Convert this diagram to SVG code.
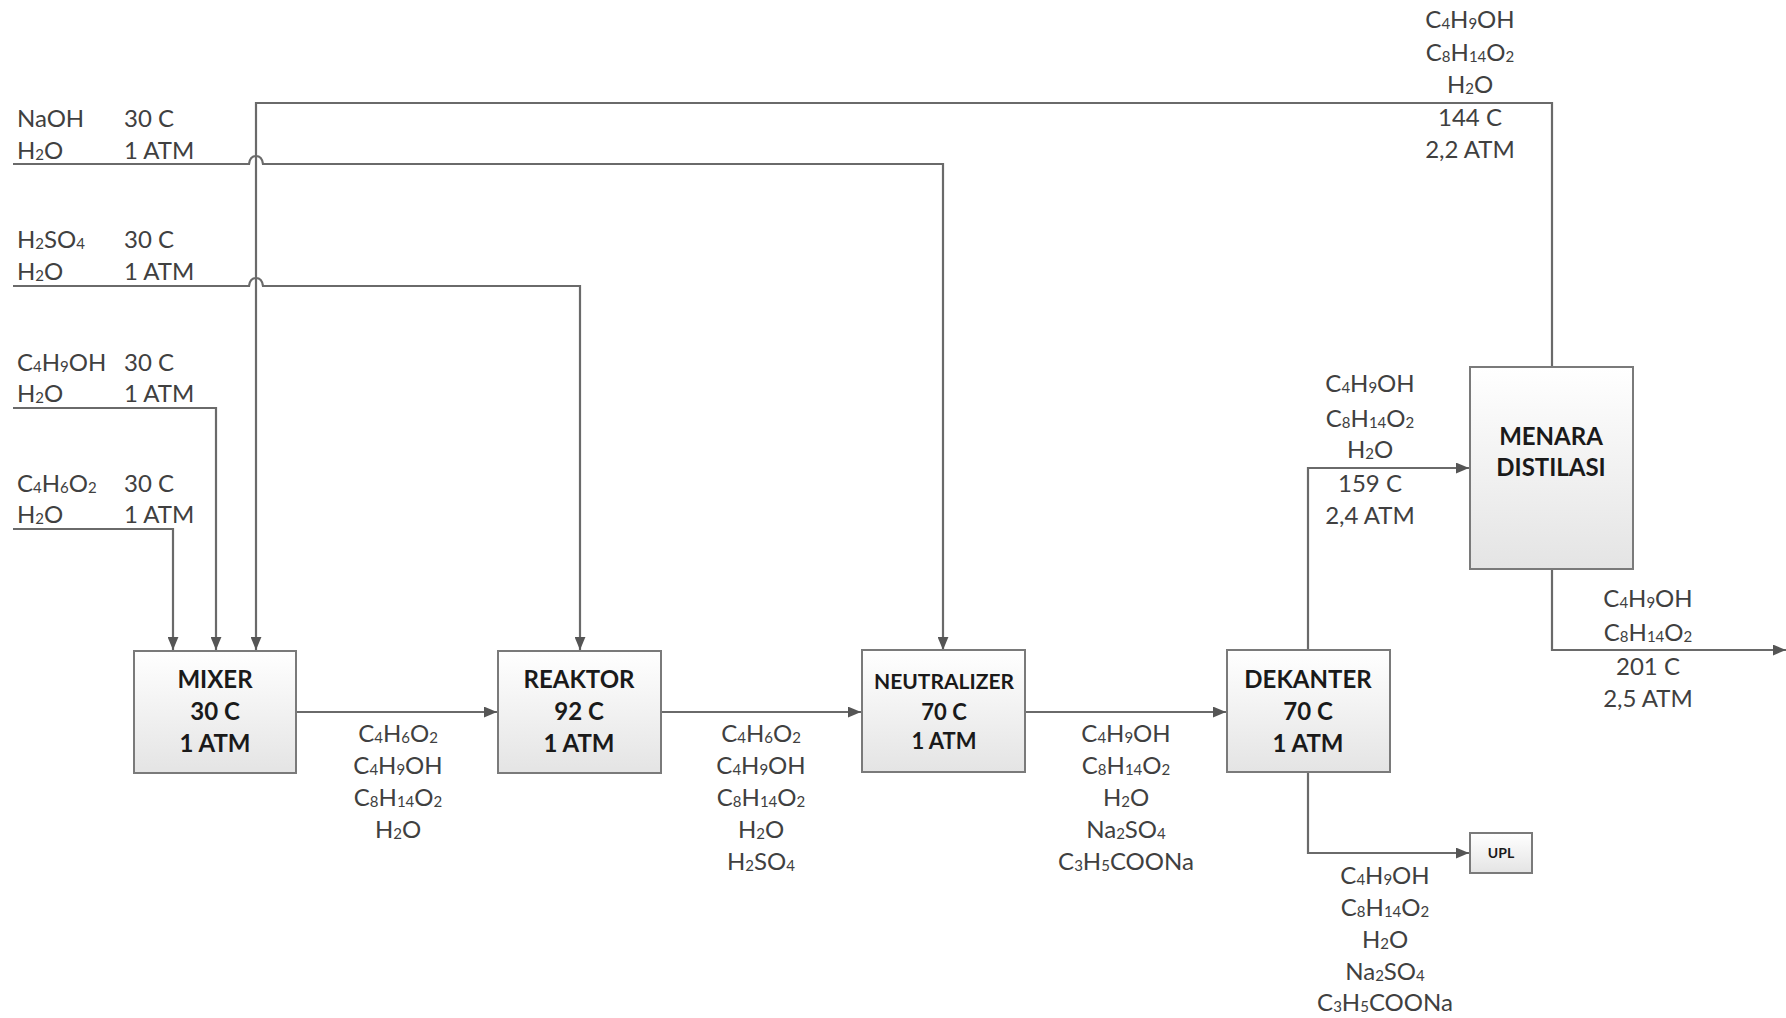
<svg xmlns="http://www.w3.org/2000/svg" width="1786" height="1018" viewBox="0 0 1786 1018">
<defs>
<linearGradient id="bx" x1="0" y1="0" x2="0" y2="1">
<stop offset="0" stop-color="#ffffff"/>
<stop offset="1" stop-color="#e4e4e4"/>
</linearGradient>
<marker id="ar" viewBox="0 0 12 10" refX="12" refY="5" markerWidth="13" markerHeight="11" markerUnits="userSpaceOnUse" orient="auto">
<path d="M0,0 L12,5 L0,10 z" fill="#555"/>
</marker>
</defs>
<style>
.box{fill:url(#bx);stroke:#7a7a7a;stroke-width:2}
.bt{font-family:Lato,"Open Sans",sans-serif;font-weight:bold;font-size:24px;fill:#1a1a1a;text-anchor:middle}
.lb{font-family:Lato,"Open Sans",sans-serif;font-size:24px;fill:#404040}
.c{text-anchor:middle}
.s{font-size:15px;baseline-shift:-1px}
.ln2{fill:none;stroke:#6a6a6a;stroke-width:2.2;marker-end:url(#ar)}
</style>
<rect width="1786" height="1018" fill="#fff"/>

<g id="connectors">
<path class="ln2" d="M1552,367 V103 H256 V650"/>
<path class="ln2" d="M13,164 H249 Q250,156 256,156 Q262,156 263,164 H943 V650"/>
<path class="ln2" d="M13,286 H249 Q250,278 256,278 Q262,278 263,286 H580 V650"/>
<path class="ln2" d="M13,408 H216 V650"/>
<path class="ln2" d="M13,529 H173 V650"/>
<path class="ln2" d="M296,712 H497"/>
<path class="ln2" d="M661,712 H861"/>
<path class="ln2" d="M1025,712 H1226"/>
<path class="ln2" d="M1308,650 V468 H1469"/>
<path class="ln2" d="M1308,772 V853 H1469"/>
<path class="ln2" d="M1552,569 V650 H1786"/>
</g>

<g id="mixer">
<rect class="box" x="134" y="651" width="162" height="122"/>
<text class="bt" x="215" y="688">MIXER</text>
<text class="bt" x="215" y="720">30 C</text>
<text class="bt" x="215" y="752">1 ATM</text>
</g>
<g id="reaktor">
<rect class="box" x="498" y="651" width="163" height="122"/>
<text class="bt" x="579" y="688">REAKTOR</text>
<text class="bt" x="579" y="720">92 C</text>
<text class="bt" x="579" y="752">1 ATM</text>
</g>
<g id="neutralizer">
<rect class="box" x="862" y="650" width="163" height="122"/>
<text class="bt" x="944" y="689" style="font-size:21px">NEUTRALIZER</text>
<text class="bt" x="944" y="720" style="font-size:22px">70 C</text>
<text class="bt" x="944" y="749" style="font-size:22px">1 ATM</text>
</g>
<g id="dekanter">
<rect class="box" x="1227" y="650" width="163" height="122"/>
<text class="bt" x="1308" y="688">DEKANTER</text>
<text class="bt" x="1308" y="720">70 C</text>
<text class="bt" x="1308" y="752">1 ATM</text>
</g>
<g id="menara">
<rect class="box" x="1470" y="367" width="163" height="202"/>
<text class="bt" x="1551" y="445">MENARA</text>
<text class="bt" x="1551" y="476">DISTILASI</text>
</g>
<g id="upl">
<rect class="box" x="1470" y="833" width="62" height="40"/>
<text class="bt" x="1501" y="858" style="font-size:14px">UPL</text>
</g>

<g id="feed-labels" class="lb">
<text x="17" y="127">NaOH</text>
<text x="17" y="159">H<tspan class="s">2</tspan>O</text>
<text x="124" y="127">30 C</text>
<text x="124" y="159">1 ATM</text>
<text x="17" y="248">H<tspan class="s">2</tspan>SO<tspan class="s">4</tspan></text>
<text x="17" y="280">H<tspan class="s">2</tspan>O</text>
<text x="124" y="248">30 C</text>
<text x="124" y="280">1 ATM</text>
<text x="17" y="371">C<tspan class="s">4</tspan>H<tspan class="s">9</tspan>OH</text>
<text x="17" y="402">H<tspan class="s">2</tspan>O</text>
<text x="124" y="371">30 C</text>
<text x="124" y="402">1 ATM</text>
<text x="17" y="492">C<tspan class="s">4</tspan>H<tspan class="s">6</tspan>O<tspan class="s">2</tspan></text>
<text x="17" y="523">H<tspan class="s">2</tspan>O</text>
<text x="124" y="492">30 C</text>
<text x="124" y="523">1 ATM</text>
</g>

<g id="stream-labels" class="lb c">
<text class="c" x="398" y="742">C<tspan class="s">4</tspan>H<tspan class="s">6</tspan>O<tspan class="s">2</tspan></text>
<text class="c" x="398" y="774">C<tspan class="s">4</tspan>H<tspan class="s">9</tspan>OH</text>
<text class="c" x="398" y="806">C<tspan class="s">8</tspan>H<tspan class="s">14</tspan>O<tspan class="s">2</tspan></text>
<text class="c" x="398" y="838">H<tspan class="s">2</tspan>O</text>

<text class="c" x="761" y="742">C<tspan class="s">4</tspan>H<tspan class="s">6</tspan>O<tspan class="s">2</tspan></text>
<text class="c" x="761" y="774">C<tspan class="s">4</tspan>H<tspan class="s">9</tspan>OH</text>
<text class="c" x="761" y="806">C<tspan class="s">8</tspan>H<tspan class="s">14</tspan>O<tspan class="s">2</tspan></text>
<text class="c" x="761" y="838">H<tspan class="s">2</tspan>O</text>
<text class="c" x="761" y="870">H<tspan class="s">2</tspan>SO<tspan class="s">4</tspan></text>

<text class="c" x="1126" y="742">C<tspan class="s">4</tspan>H<tspan class="s">9</tspan>OH</text>
<text class="c" x="1126" y="774">C<tspan class="s">8</tspan>H<tspan class="s">14</tspan>O<tspan class="s">2</tspan></text>
<text class="c" x="1126" y="806">H<tspan class="s">2</tspan>O</text>
<text class="c" x="1126" y="838">Na<tspan class="s">2</tspan>SO<tspan class="s">4</tspan></text>
<text class="c" x="1126" y="870">C<tspan class="s">3</tspan>H<tspan class="s">5</tspan>COONa</text>

<text class="c" x="1385" y="884">C<tspan class="s">4</tspan>H<tspan class="s">9</tspan>OH</text>
<text class="c" x="1385" y="916">C<tspan class="s">8</tspan>H<tspan class="s">14</tspan>O<tspan class="s">2</tspan></text>
<text class="c" x="1385" y="948">H<tspan class="s">2</tspan>O</text>
<text class="c" x="1385" y="980">Na<tspan class="s">2</tspan>SO<tspan class="s">4</tspan></text>
<text class="c" x="1385" y="1011">C<tspan class="s">3</tspan>H<tspan class="s">5</tspan>COONa</text>

<text class="c" x="1470" y="28">C<tspan class="s">4</tspan>H<tspan class="s">9</tspan>OH</text>
<text class="c" x="1470" y="61">C<tspan class="s">8</tspan>H<tspan class="s">14</tspan>O<tspan class="s">2</tspan></text>
<text class="c" x="1470" y="93">H<tspan class="s">2</tspan>O</text>
<text class="c" x="1470" y="126">144 C</text>
<text class="c" x="1470" y="158">2,2 ATM</text>

<text class="c" x="1370" y="392">C<tspan class="s">4</tspan>H<tspan class="s">9</tspan>OH</text>
<text class="c" x="1370" y="427">C<tspan class="s">8</tspan>H<tspan class="s">14</tspan>O<tspan class="s">2</tspan></text>
<text class="c" x="1370" y="458">H<tspan class="s">2</tspan>O</text>
<text class="c" x="1370" y="492">159 C</text>
<text class="c" x="1370" y="524">2,4 ATM</text>

<text class="c" x="1648" y="607">C<tspan class="s">4</tspan>H<tspan class="s">9</tspan>OH</text>
<text class="c" x="1648" y="641">C<tspan class="s">8</tspan>H<tspan class="s">14</tspan>O<tspan class="s">2</tspan></text>
<text class="c" x="1648" y="675">201 C</text>
<text class="c" x="1648" y="707">2,5 ATM</text>
</g>
</svg>
